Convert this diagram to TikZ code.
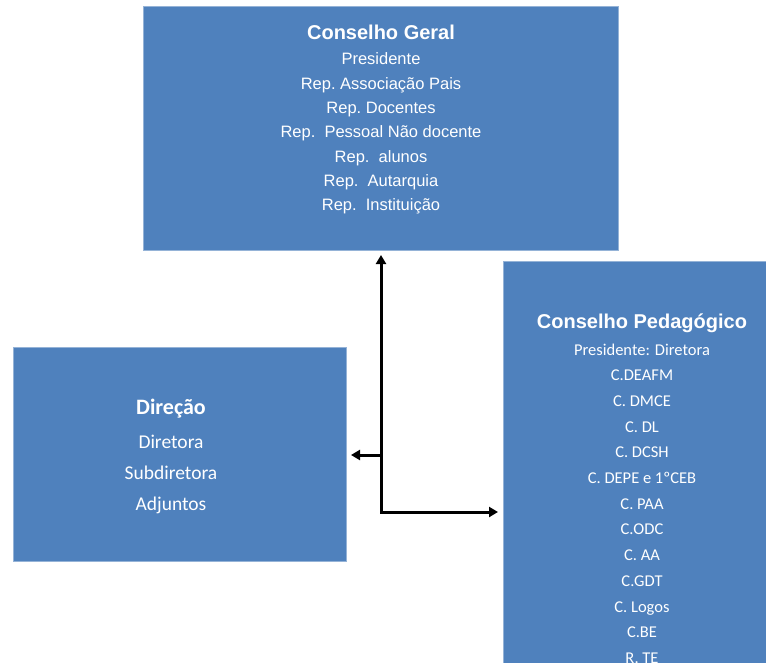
\documentclass[tikz,border=0pt]{standalone}
\usepackage{fontspec}
\setmainfont{Liberation Sans}
\newfontfamily\calibri{Carlito}
\usetikzlibrary{arrows.meta}
\definecolor{boxblue}{HTML}{4F81BD}
\begin{document}
\begin{tikzpicture}[x=1pt,y=-1pt,
  box/.style={fill=boxblue, draw=boxblue!60!white, line width=0.8pt, inner sep=0pt, outer sep=0pt},
  txt/.style={text=white, anchor=base, inner sep=0pt},
  cgtitle/.style={txt, font=\fontsize{20}{24}\selectfont\bfseries},
  cgitem/.style={txt, font=\fontsize{16.5}{20}\selectfont},
  cptitle/.style={txt, font=\fontsize{20}{24}\selectfont\bfseries},
  cpitem/.style={txt, font=\calibri\fontsize{16.5}{20}\selectfont},
  dirtitle/.style={txt, font=\calibri\fontsize{22}{26}\selectfont\bfseries},
  diritem/.style={txt, font=\calibri\fontsize{19.5}{24}\selectfont},
  connector/.style={line width=3pt, line join=miter, draw=black},
  tipshape/.style={},
]
\useasboundingbox (0,0) rectangle (766,662);
\clip (0,0) rectangle (766,662);
\fill[white] (0,0) rectangle (766,662);

% boxes
\node[box, minimum width=475pt, minimum height=244pt] (cg) at (380.5,128) {};
\node[box, minimum width=333pt, minimum height=214pt] (dir) at (179.5,454) {};
\node[box, minimum width=290pt, minimum height=460pt] (cp) at (648,491) {};

% Conselho Geral text
\node[cgtitle] (cgt) at (381,39) {Conselho Geral};
\foreach \t [count=\i from 0] in {Presidente, Rep.\ Associação Pais, Rep.\ Docentes, Rep.\ \ Pessoal Não docente, Rep.\ \ alunos, Rep.\ \ Autarquia, Rep.\ \ Instituição}
  \node[cgitem] (cgl\i) at (381,{64.7+24.35*\i}) {\t};

% Direcao text
\node[dirtitle] (dirt) at (171,414) {Direção};
\foreach \t [count=\i from 0] in {Diretora, Subdiretora, Adjuntos}
  \node[diritem] (dirl\i) at (171,{448+31*\i}) {\t};

% Conselho Pedagogico text
\node[cptitle] (cpt) at (642,328) {Conselho Pedagógico};
\foreach \t [count=\i from 0] in {Presidente: Diretora, C.DEAFM, C.\ DMCE, C.\ DL, C.\ DCSH, C.\ DEPE e 1ºCEB, C.\ PAA, C.ODC, C.\ AA, C.GDT, C.\ Logos, C.BE, R.\ TE}
  \node[cpitem] (cpl\i) at (642,{355+25.7*\i}) {\t};

% connectors
\coordinate (j) at (381,512);
\coordinate (k) at (381,455);
\draw[connector, {Triangle[length=9pt,width=10pt]}-{Triangle[length=9pt,width=10pt]}, shorten <=5pt, shorten >=5pt]
  (j |- cg.south) -- (j) -- (j -| cp.west);
\draw[connector, -{Triangle[length=9pt,width=10pt]}, shorten >=5pt] (k) -- (k -| dir.east);
\end{tikzpicture}
\end{document}
